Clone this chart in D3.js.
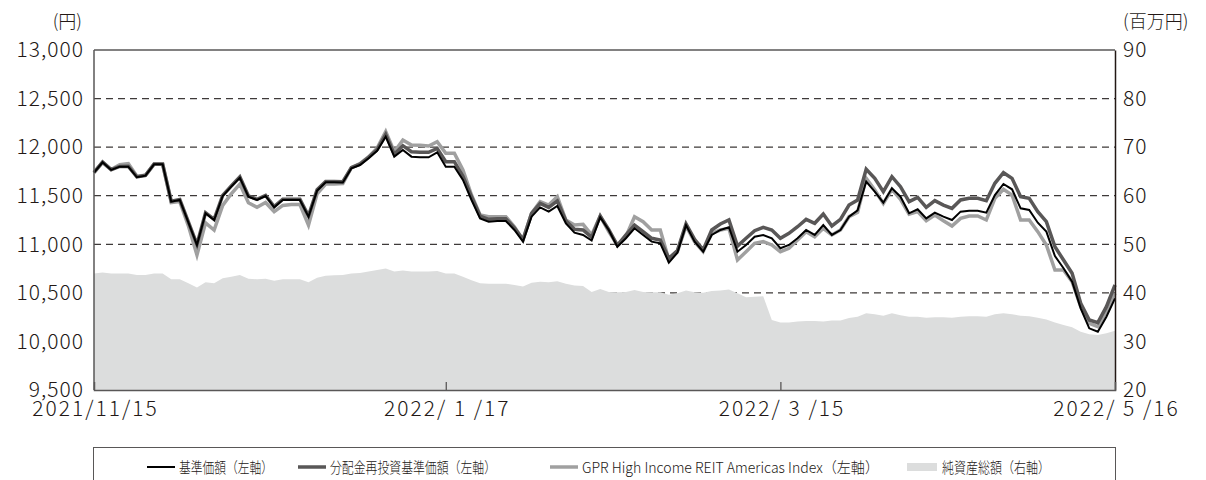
<!DOCTYPE html>
<html>
<head>
<meta charset="utf-8">
<script src="https://cdn.jsdelivr.net/npm/d3@7"></script>
<style>
  body { margin: 0; background: #fff; }
  svg text { font-family: "Noto Sans CJK JP", "Noto Sans", sans-serif; fill: #231815; }
</style>
</head>
<body>
<svg id="chart" width="1206" height="480"></svg>
<script>
// 基準価額 (black)
const nav = [11737,11844,11765,11799,11799,11690,11706,11823,11823,11439,
  11456,11226,10993,11319,11250,11497,11593,11686,11490,11456,
  11497,11380,11456,11456,11456,11284,11552,11638,11638,11635,
  11782,11816,11885,11963,12108,11902,11971,11902,11895,11895,
  11947,11799,11799,11662,11456,11267,11233,11240,11240,11147,
  11027,11284,11380,11336,11394,11216,11120,11096,11038,11280,
  11147,10975,11062,11165,11096,11027,11010,10811,10914,11198,
  11027,10924,11096,11147,11175,10924,10993,11078,11096,11062,
  10959,10993,11062,11147,11096,11198,11096,11147,11284,11350,
  11645,11542,11428,11576,11490,11319,11360,11267,11325,11284,
  11250,11336,11346,11346,11325,11507,11621,11566,11370,11353,
  11222,11130,10879,10753,10615,10341,10135,10100,10254,10444];

// 分配金再投資基準価額 (dark gray)
const navReinvested = [11740,11846,11768,11802,11803,11694,11710,11827,11827,11444,
  11461,11231,10999,11325,11256,11503,11600,11693,11497,11463,
  11504,11388,11464,11464,11464,11292,11561,11647,11647,11645,
  11790,11825,11895,11975,12130,11926,12015,11953,11947,11947,
  11987,11850,11850,11700,11490,11291,11257,11262,11262,11170,
  11050,11318,11421,11380,11446,11243,11154,11147,11072,11290,
  11150,10990,11096,11198,11130,11062,11044,10856,10935,11209,
  11050,10942,11147,11209,11250,10982,11062,11140,11175,11147,
  11062,11113,11181,11257,11216,11312,11189,11257,11404,11456,
  11772,11679,11542,11696,11593,11439,11483,11380,11449,11404,
  11370,11456,11473,11473,11449,11628,11737,11679,11490,11473,
  11336,11233,10975,10838,10701,10393,10221,10193,10358,10581];

// GPR High Income REIT Americas Index (light gray)
const benchmark = [11737,11844,11770,11820,11830,11700,11710,11823,11823,11430,
  11440,11190,10890,11220,11147,11400,11520,11620,11428,11380,
  11430,11336,11400,11410,11410,11198,11520,11620,11620,11625,
  11790,11830,11900,11990,12159,11953,12074,12022,12019,12012,
  12056,11937,11937,11765,11507,11301,11284,11284,11284,11181,
  11044,11318,11439,11404,11490,11250,11198,11205,11096,11290,
  11130,10990,11080,11284,11233,11147,11147,10839,10924,11190,
  11027,10924,11113,11147,11165,10838,10924,11010,11027,10993,
  10924,10959,11044,11130,11078,11165,11096,11147,11284,11330,
  11679,11559,11421,11566,11463,11309,11336,11243,11301,11243,
  11188,11267,11291,11291,11250,11473,11566,11507,11250,11250,
  11130,10993,10735,10735,10615,10358,10186,10152,10306,10496];

// 純資産総額 (百万円, right axis)
const netAssets = [44.0,44.2,44.0,44.0,44.0,43.7,43.7,44.0,44.0,42.8,
  42.8,42.0,41.1,42.2,42.0,43.0,43.3,43.7,42.9,42.8,
  42.9,42.5,42.8,42.8,42.8,42.2,43.1,43.5,43.6,43.7,
  44.0,44.1,44.4,44.7,45.0,44.4,44.6,44.4,44.4,44.4,
  44.5,44.0,44.0,43.3,42.6,42.0,41.9,41.9,41.9,41.6,
  41.3,42.1,42.3,42.2,42.4,41.9,41.5,41.4,40.2,40.8,
  40.2,40.1,40.2,40.6,40.2,40.1,40.1,39.6,39.9,40.5,
  40.1,40.0,40.4,40.5,40.7,39.9,39.1,39.2,39.3,34.4,
  33.9,33.9,34.1,34.2,34.2,34.1,34.3,34.3,34.8,35.1,
  35.8,35.6,35.3,35.8,35.4,35.1,35.1,34.9,35.0,35.0,
  34.9,35.1,35.2,35.2,35.1,35.6,35.8,35.6,35.3,35.2,
  34.9,34.5,33.9,33.4,32.9,32.0,31.5,31.3,31.7,32.2];

const xTickIndex = [0, 41, 80, 119];
const xTickLabels = ["2021/11/15", "2022/ 1 /17", "2022/ 3 /15", "2022/ 5 /16"];
const leftTicks = [9500, 10000, 10500, 11000, 11500, 12000, 12500, 13000];
const rightTicks = [20, 30, 40, 50, 60, 70, 80, 90];
const legendLabels = ["基準価額（左軸）", "分配金再投資基準価額（左軸）",
  "GPR High Income REIT Americas Index（左軸）", "純資産総額（右軸）"];

const margin = {top: 50, right: 91, bottom: 90, left: 94};
const width = 1206, height = 480;
const plotW = width - margin.left - margin.right;
const plotH = height - margin.top - margin.bottom;

const svg = d3.select("#chart");
const g = svg.append("g").attr("transform", `translate(${margin.left},${margin.top})`);

const x = d3.scaleLinear().domain([0, nav.length - 1]).range([0, plotW]);
const yL = d3.scaleLinear().domain([9500, 13000]).range([plotH, 0]);
const yR = d3.scaleLinear().domain([20, 90]).range([plotH, 0]);

// dashed grid
g.append("g")
  .selectAll("line")
  .data(leftTicks.slice(1, -1))
  .join("line")
    .attr("x1", 0).attr("x2", plotW)
    .attr("y1", d => yL(d)).attr("y2", d => yL(d))
    .attr("stroke", "#3e3a39")
    .attr("stroke-width", 1.3)
    .attr("stroke-dasharray", "7,5");

// net assets area
const area = d3.area()
  .x((d, i) => x(i))
  .y0(plotH)
  .y1(d => yR(d));
g.append("path")
  .datum(netAssets)
  .attr("d", area)
  .attr("fill", "#dcdddd");

const line = d3.line().x((d, i) => x(i)).y(d => yL(d));
g.append("path").datum(benchmark).attr("d", line)
  .attr("fill", "none").attr("stroke", "#a0a0a0").attr("stroke-width", 3.5);
g.append("path").datum(navReinvested).attr("d", line)
  .attr("fill", "none").attr("stroke", "#595757").attr("stroke-width", 3.5);
g.append("path").datum(nav).attr("d", line)
  .attr("fill", "none").attr("stroke", "#000").attr("stroke-width", 2);

// frame
g.append("line").attr("x1", 0).attr("x2", plotW).attr("y1", 0).attr("y2", 0)
  .attr("stroke", "#595757").attr("stroke-width", 1.5);
g.append("line").attr("x1", 0).attr("x2", 0).attr("y1", 0).attr("y2", plotH)
  .attr("stroke", "#595757").attr("stroke-width", 1.5);

// axes
const axL = g.append("g")
  .call(d3.axisLeft(yL).tickValues(leftTicks).tickSize(0).tickPadding(10)
    .tickFormat(d3.format(",")));
axL.select(".domain").remove();
const axR = g.append("g").attr("transform", `translate(${plotW},0)`)
  .call(d3.axisRight(yR).tickValues(rightTicks).tickSize(0).tickPadding(8));
axR.select(".domain").attr("stroke", "#231815").attr("stroke-width", 1.5);
const axB = g.append("g").attr("transform", `translate(0,${plotH})`)
  .call(d3.axisBottom(x).tickValues(xTickIndex).tickSize(-8).tickPadding(11)
    .tickFormat((d, i) => xTickLabels[i]));
axB.select(".domain").attr("stroke", "#595757").attr("stroke-width", 1.5);
axB.selectAll(".tick line").attr("stroke", "#595757").attr("stroke-width", 1.3)
  .filter((d, i) => i === 0 || i === xTickIndex.length - 1).remove();

svg.selectAll(".tick text")
  .attr("font-size", 21)
  .attr("font-family", "Noto Sans CJK JP")
  .attr("font-weight", 300)
  .attr("fill", "#231815");
axL.selectAll(".tick text").attr("letter-spacing", 1);
axR.selectAll(".tick text").attr("letter-spacing", 1);
axB.selectAll(".tick text").attr("letter-spacing", 2).attr("dx", 1);

svg.append("text").attr("x", 82).attr("y", 28).attr("text-anchor", "end")
  .attr("font-size", 18).attr("font-weight", 300).text("(円)");
svg.append("text").attr("x", 1123).attr("y", 28)
  .attr("font-size", 18).attr("font-weight", 300).text("(百万円)");

// legend
svg.append("rect").attr("x", 93.5).attr("y", 447.5).attr("width", 1022).attr("height", 50)
  .attr("fill", "none").attr("stroke", "#595757").attr("stroke-width", 1);

const legendX = [147, 298, 550, 907];
const legendTextW = [94, 166, 297, 108];
const legendStyles = [
  {type: "line", color: "#000", w: 2},
  {type: "line", color: "#595757", w: 3.5},
  {type: "line", color: "#a0a0a0", w: 3.5},
  {type: "rect", color: "#dcdddd"}
];
const lg = svg.append("g").selectAll("g")
  .data(legendLabels)
  .join("g")
    .attr("transform", (d, i) => `translate(${legendX[i]},467)`);
lg.each(function(d, i) {
  const s = legendStyles[i];
  const el = d3.select(this);
  if (s.type === "line") {
    el.append("line").attr("x1", 0).attr("x2", 28).attr("y1", 0).attr("y2", 0)
      .attr("stroke", s.color).attr("stroke-width", s.w);
  } else {
    el.append("rect").attr("x", 0).attr("y", -4).attr("width", 30).attr("height", 8)
      .attr("fill", s.color);
  }
  el.append("text")
    .attr("x", i === 3 ? 35 : 32).attr("y", 5.5)
    .attr("font-size", 15)
    .attr("font-weight", 300)
    .attr("textLength", legendTextW[i])
    .attr("lengthAdjust", "spacingAndGlyphs")
    .text(d);
});
</script>
</body>
</html>
